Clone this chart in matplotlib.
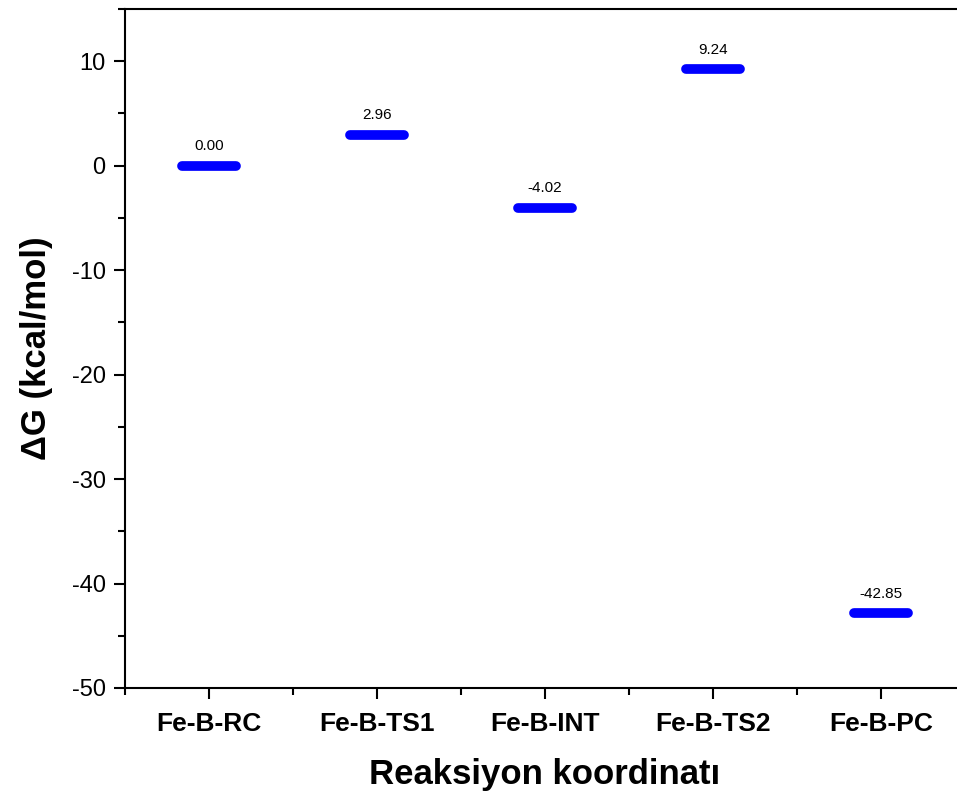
import matplotlib
matplotlib.use("Agg")
import matplotlib.pyplot as plt
from matplotlib.ticker import MultipleLocator

plt.rcParams["font.family"] = ["Liberation Sans", "DejaVu Sans"]
plt.rcParams["axes.unicode_minus"] = False

states = ["Fe-B-RC", "Fe-B-TS1", "Fe-B-INT", "Fe-B-TS2", "Fe-B-PC"]
dG = [0.00, 2.96, -4.02, 9.24, -42.85]
dG_labels = ["0.00", "2.96", "-4.02", "9.24", "-42.85"]

fig = plt.figure(figsize=(9.57, 7.96), dpi=100)
ax = fig.add_axes([0.1306, 0.1357, 0.8777, 0.853])

x = list(range(len(states)))
half = 0.16
for xi, g, lab in zip(x, dG, dG_labels):
    ax.plot([xi - half, xi + half], [g, g], color="#0000ff", linewidth=7,
            solid_capstyle="round")
    ax.annotate(lab, (xi, g), xytext=(0, 9), textcoords="offset points",
                ha="center", va="bottom", fontsize=11)

ax.set_xlim(-0.5, 4.5)
ax.set_ylim(-50, 15)
ax.set_xticks(x)
ax.set_xticklabels(states, fontsize=19, fontweight="bold")
ax.xaxis.set_minor_locator(MultipleLocator(0.5))
ax.yaxis.set_major_locator(MultipleLocator(10))
ax.yaxis.set_minor_locator(MultipleLocator(5))
ax.tick_params(axis="y", labelsize=17, pad=6)
ax.tick_params(which="major", length=8, width=1.5, direction="out")
ax.tick_params(which="minor", length=5, width=1.5, direction="out")
ax.tick_params(axis="x", which="both", pad=9)
for side in ["left", "bottom", "top", "right"]:
    ax.spines[side].set_linewidth(1.5)

ax.set_ylabel("ΔG (kcal/mol)", fontsize=25, fontweight="bold", labelpad=13)
ax.set_xlabel("Reaksiyon koordinatı", fontsize=25, fontweight="bold", labelpad=16)

fig.savefig("out.png", dpi=100)
